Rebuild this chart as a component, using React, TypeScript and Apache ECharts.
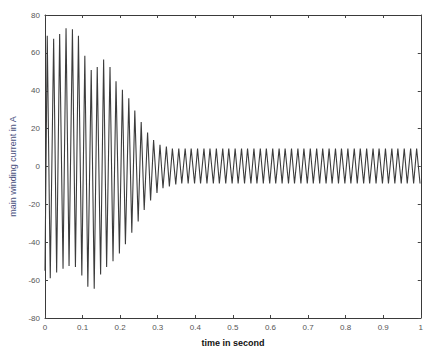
import React, { useEffect, useRef } from "react";
import * as echarts from "echarts";

// Times (s) of positive and negative peaks of the current waveform
const posTimes = [
  0.006, 0.023, 0.039, 0.056, 0.073, 0.089,
  0.106, 0.123, 0.139, 0.156, 0.173, 0.189,
  0.206, 0.223, 0.239, 0.256, 0.273, 0.289,
  0.306, 0.323, 0.339, 0.356, 0.373, 0.389,
  0.406, 0.423, 0.439, 0.456, 0.473, 0.489,
  0.506, 0.523, 0.539, 0.556, 0.573, 0.589,
  0.606, 0.623, 0.639, 0.656, 0.673, 0.689,
  0.706, 0.723, 0.739, 0.756, 0.773, 0.789,
  0.806, 0.823, 0.839, 0.856, 0.873, 0.889,
  0.906, 0.923, 0.939, 0.956, 0.973, 0.989,
];
const negTimes = [
  0.014, 0.031, 0.048, 0.064, 0.081, 0.098,
  0.114, 0.131, 0.148, 0.164, 0.181, 0.198,
  0.214, 0.231, 0.248, 0.264, 0.281, 0.298,
  0.314, 0.331, 0.348, 0.364, 0.381, 0.398,
  0.414, 0.431, 0.448, 0.464, 0.481, 0.498,
  0.514, 0.531, 0.548, 0.564, 0.581, 0.598,
  0.614, 0.631, 0.648, 0.664, 0.681, 0.698,
  0.714, 0.731, 0.748, 0.764, 0.781, 0.798,
  0.814, 0.831, 0.848, 0.864, 0.881, 0.898,
  0.914, 0.931, 0.948, 0.964, 0.981, 0.998,
];
// Peak values (A)
const posPeaks = [
  69, 67.5, 70, 73, 72.5, 69,
  58.5, 51, 52.5, 56.5, 52.5, 45,
  40.5, 36, 29.5, 23.5, 18, 14,
  11.5, 10.5, 9.5, 9.5, 9.5, 9.5,
  9.5, 9.5, 9.5, 9.5, 9.5, 9.5,
  9.5, 9.5, 9.5, 9.5, 9.5, 9.5,
  9.5, 9.5, 9.5, 9.5, 9.5, 9.5,
  9.5, 9.5, 9.5, 9.5, 9.5, 9.5,
  9.5, 9.5, 9.5, 9.5, 9.5, 9.5,
  9.5, 9.5, 9.5, 9.5, 9.5, 9.5,
];
const negPeaks = [
  -59, -56, -54, -52.5, -53, -57.5,
  -63.5, -64.5, -57, -53, -50, -46,
  -41, -35, -29, -23, -18, -14,
  -11.5, -10.5, -9.5, -9, -9, -9,
  -9, -9, -9, -9, -9, -9,
  -9, -9, -9, -9, -9, -9,
  -9, -9, -9, -9, -9, -9,
  -9, -9, -9, -9, -9, -9,
  -9, -9, -9, -9, -9, -9,
  -9, -9, -9, -9, -9, -9,
];
const startPoint: [number, number] = [0, -55];
const yTicks = [-80, -60, -40, -20, 0, 20, 40, 60, 80];
const xTicks = [0, 0.1, 0.2, 0.3, 0.4, 0.5, 0.6, 0.7, 0.8, 0.9, 1];

export default function App() {
  const ref = useRef<HTMLDivElement>(null);
  useEffect(() => {
    if (!ref.current) return;
    const chart = echarts.init(ref.current, undefined, { renderer: "svg" });
    const data: [number, number][] = [startPoint];
    for (let i = 0; i < posTimes.length; i++) {
      data.push([posTimes[i], posPeaks[i]]);
      data.push([negTimes[i], negPeaks[i]]);
    }
    const font = "Liberation Sans, Arial, sans-serif";
    const axisLine = { show: true, onZero: false, lineStyle: { color: "#3a3a3a", width: 1 } };
    const tick = { show: true, inside: true, length: 3, lineStyle: { color: "#444" } };
    const labelStyle = { color: "#555", fontSize: 8, fontFamily: font };
    chart.setOption({
      animation: false,
      backgroundColor: "#ffffff",
      grid: { left: 44, right: 2, top: 15, bottom: 28 },
      xAxis: [
        {
          type: "value",
          min: 0,
          max: 1,
          interval: 0.1,
          position: "bottom",
          axisLine,
          axisTick: tick,
          axisLabel: {
            ...labelStyle,
            margin: 5,
            formatter: (v: number) => {
              const m = xTicks.find((t) => Math.abs(t - v) < 1e-6);
              return m === undefined ? "" : String(m);
            },
          },
          splitLine: { show: false },
          name: "time in second",
          nameLocation: "middle",
          nameGap: 20,
          nameTextStyle: { color: "#111", fontSize: 9, fontWeight: "bold", fontFamily: font },
        },
        {
          type: "value",
          min: 0,
          max: 1,
          interval: 0.1,
          position: "top",
          axisLine,
          axisTick: tick,
          axisLabel: { show: false },
          splitLine: { show: false },
        },
      ],
      yAxis: [
        {
          type: "value",
          min: -80,
          max: 80,
          interval: 20,
          position: "left",
          axisLine,
          axisTick: tick,
          axisLabel: {
            ...labelStyle,
            margin: 5,
            formatter: (v: number) => (yTicks.includes(v) ? String(v) : ""),
          },
          splitLine: { show: false },
          name: "main winding current in A",
          nameLocation: "middle",
          nameGap: 28,
          nameRotate: 90,
          nameTextStyle: { color: "#4a5080", fontSize: 9, fontFamily: font },
        },
        {
          type: "value",
          min: -80,
          max: 80,
          interval: 20,
          position: "right",
          axisLine,
          axisTick: tick,
          axisLabel: { show: false },
          splitLine: { show: false },
        },
      ],
      series: [
        {
          type: "line",
          data,
          xAxisIndex: 0,
          yAxisIndex: 0,
          showSymbol: false,
          symbol: "none",
          lineStyle: { color: "#3c3c3c", width: 1.1 },
        },
      ],
    });
    return () => chart.dispose();
  }, []);
  return (
    <div
      ref={ref}
      style={{ position: "fixed", left: 0, top: 0, width: 426, height: 352, background: "#fff" }}
    />
  );
}
